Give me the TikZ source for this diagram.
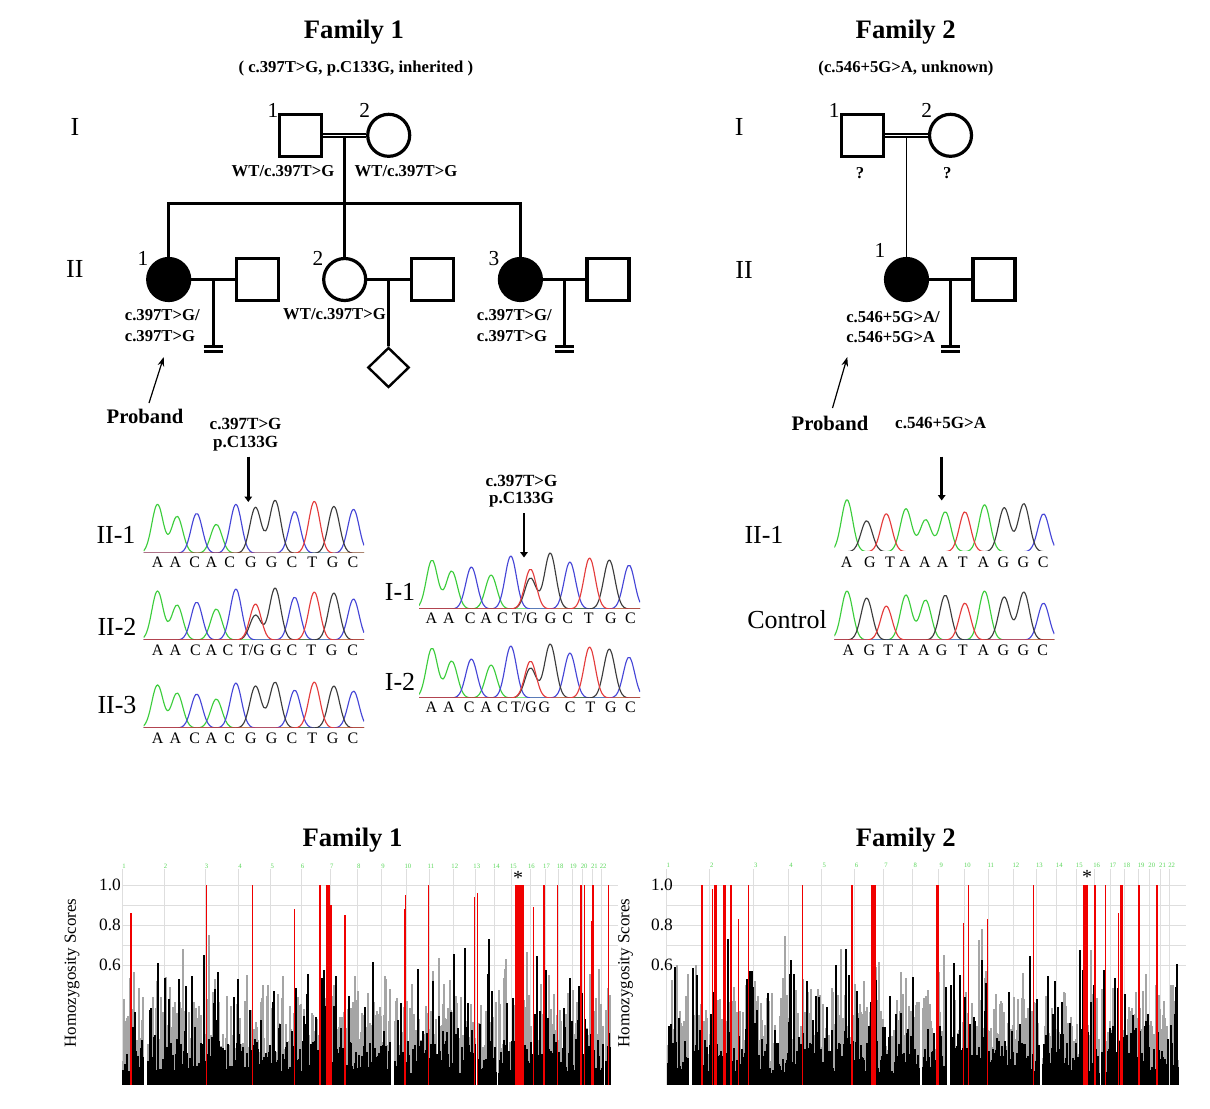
\documentclass[tikz,border=0pt]{standalone}
\usepackage{fontspec}
\setmainfont{Liberation Serif}
\usetikzlibrary{shapes.geometric,arrows.meta,calc}
\definecolor{ch1}{RGB}{60,205,60}
\definecolor{ch2}{RGB}{70,70,215}
\definecolor{ch3}{RGB}{60,60,60}
\definecolor{ch4}{RGB}{228,60,60}
\definecolor{hgray}{RGB}{165,165,165}
\definecolor{hred}{RGB}{240,0,0}
\definecolor{gridc}{RGB}{222,222,222}
\definecolor{chrg}{RGB}{90,215,90}
\tikzset{
  ttl/.style={font=\bfseries\fontsize{20}{24}\selectfont, inner sep=0},
  subttl/.style={font=\bfseries\fontsize{12.5}{15}\selectfont, inner sep=0},
  gen/.style={font=\fontsize{19.5}{23}\selectfont, inner sep=0},
  num/.style={font=\fontsize{16}{19}\selectfont, inner sep=0},
  geno/.style={font=\bfseries\fontsize{12.5}{15}\selectfont, inner sep=0},
  prob/.style={font=\bfseries\fontsize{15.5}{18}\selectfont, inner sep=0},
  mut/.style={font=\bfseries\fontsize{12.8}{15}\selectfont, inner sep=0},
  samp/.style={font=\fontsize{19.5}{23}\selectfont, inner sep=0},
  basel/.style={font=\fontsize{12}{14}\selectfont, inner sep=0, text height=1.5ex, text depth=0.25ex},
  ticklab/.style={font=\fontsize{13}{15}\selectfont, inner sep=0},
  ylab/.style={font=\fontsize{12.7}{15}\selectfont, inner sep=0, rotate=90},
  chrn/.style={font=\fontsize{5}{6}\selectfont, inner sep=0, text=chrg},
  ast/.style={font=\fontsize{15}{18}\selectfont, inner sep=0},
  male/.style={draw, rectangle, line width=2.4pt, minimum width=31.5pt, minimum height=31.5pt, inner sep=0},
  female/.style={draw, circle, line width=2.4pt, minimum size=31.5pt, inner sep=0},
  aff/.style={fill=black},
  unk/.style={draw, diamond, aspect=1, line width=1.8pt, minimum width=31pt, minimum height=30pt, inner sep=0},
  ped/.style={line width=2.2pt},
  cons/.style={line width=1.1pt, double, double distance=1.2pt},
  thinl/.style={line width=1.1pt},
  bar/.style={line width=1.9pt},
  parr/.style={line width=0.9pt, -{Stealth[length=7pt,width=5pt]}},
  marr/.style={line width=2.2pt, -{Triangle[length=4pt,width=5.5pt]}},
  chtrace/.style={line width=0.85pt, line join=round},
  gridl/.style={draw=gridc, line width=0.6pt},
}
% chromatogram: #1 x of first peak, #2 baseline, #3 spacing, #4 xmin, #5 xmax, #6 pos/chan/height
\newcommand\chromo[6]{%
  \begin{scope}
  \clip (#4,#2-70) rectangle (#5,#2-0.8);
  \foreach \chn in {1,2,3,4}{%
    \gdef\cexpr{0}%
    \foreach \pp/\cc/\hh in {#6}{%
      \ifnum\cc=\chn\relax
        \pgfmathsetmacro\px{#1+\pp*#3}%
        \xdef\cexpr{\unexpanded\expandafter{\cexpr}+\hh*exp(0-((\noexpand\x-\px)/8)^2)}%
      \fi
    }%
    \edef\chcol{ch\chn}%
    \draw[chtrace,color=\chcol] plot[domain=#4:#5,samples=111,smooth] (\x,{#2-(\cexpr)});%
  }%
  \end{scope}
}
\newcommand\seqbases[3]{%
  \foreach \bx/\bl [count=\k] in {#3}{\node[basel] (#1\k) at (\bx,#2) {\bl};}%
}
% homozygosity bars: #1 x0, #2 width, #3 seed, #4 gap expression, #5 red list
\newcommand\homplot[5]{%
  \pgfmathtruncatemacro\nlast{#2-1}%
  \pgfmathsetseed{#3}%
  \foreach \i in {0,...,\nlast}{%
    \pgfmathsetmacro\ff{\i/#2}%
    \pgfmathsetmacro\gp{#4}%
    \ifdim\gp pt<0.5pt\relax
      \pgfmathsetmacro\ra{rnd}%
      \pgfmathsetmacro\rd{rnd}%
      \pgfmathsetmacro\hg{min(0.8,0.12+0.33*\ra^1.5+0.35*\rd^8)}%
      \fill[hgray] (#1+\i,1085) rectangle ++(1.3,-200*\hg);%
    \fi
  }%
  \pgfmathsetseed{#3+101}%
  \foreach \i in {0,...,\nlast}{%
    \pgfmathsetmacro\ff{\i/#2}%
    \pgfmathsetmacro\gp{#4}%
    \ifdim\gp pt<0.5pt\relax
      \pgfmathsetmacro\rb{rnd}%
      \pgfmathsetmacro\rc{rnd}%
      \pgfmathsetmacro\hb{min(0.8,0.06+0.16*\rb*\rb+0.55*\rc^7)}%
      \fill[black] (#1+\i,1085) rectangle ++(1.2,-200*\hb);%
    \fi
  }%
  \foreach \rf/\rw/\rh in {#5}{%
    \fill[hred] (#1+\rf*#2,1085) rectangle ++(\rw,-200*\rh);%
  }%
}
\begin{document}
\begin{tikzpicture}[x=0.75pt,y=-0.75pt]
\fill[white] (0,0) rectangle (1210,1108);
\useasboundingbox (0,0) rectangle (1210,1108);

% ===== Titles =====
\node[ttl] (t1) at (353.9,31.7) {Family 1};
\node[subttl] (st1) at (355.8,68.3) {( c.397T>G, p.C133G, inherited )};
\node[ttl] (t2) at (905.7,31.7) {Family 2};
\node[subttl] (st2) at (906,68.3) {(c.546+5G>A, unknown)};

% ===== Family 1 pedigree =====
\node[gen] (f1g1) at (74.9,126.7) {I};
\node[gen] (f1g2) at (74.9,269.3) {II};
\node[male] (f1I1) at (300.7,135.3) {};
\node[female] (f1I2) at (388.7,135.3) {};
\node[num] (f1n1) at (273,110) {1};
\node[num] (f1n2) at (364.6,110) {2};
\draw[cons] (f1I1.east) -- (f1I2.west);
\coordinate (f1m) at (344.7,137.6);
\coordinate (f1s) at (344.7,203.3);
\draw[ped] (f1m) -- (f1s);
\node[geno] (f1w1) at (283,170.7) {WT/c.397T>G};
\node[geno] (f1w2) at (406,170.7) {WT/c.397T>G};

\node[female,aff] (f1II1) at (168.7,279.5) {};
\node[male] (f1S1) at (257.6,279.5) {};
\node[female] (f1II2) at (344.7,279.5) {};
\node[male] (f1S2) at (432.3,279.5) {};
\node[female,aff] (f1II3) at (520.4,279.5) {};
\node[male] (f1S3) at (608,279.5) {};
\node[unk] (f1c) at (388.5,367.5) {};
\node[num] (f1n3) at (143,258.3) {1};
\node[num] (f1n4) at (318,258.3) {2};
\node[num] (f1n5) at (494,258.3) {3};

\draw[ped] (f1II1.north) |- (f1s) -| (f1II3.north);
\draw[ped] (f1s) -- (f1II2.north);
\draw[ped] (f1II1.east) -- (f1S1.west);
\draw[ped] (f1II2.east) -- (f1S2.west);
\draw[ped] (f1II3.east) -- (f1S3.west);
\coordinate (f1d1) at ($(f1II1.east)!0.5!(f1S1.west)$);
\coordinate (f1d2) at ($(f1II2.east)!0.5!(f1S2.west)$);
\coordinate (f1d3) at ($(f1II3.east)!0.5!(f1S3.west)$);
\coordinate (f1b1) at ($(f1d1)+(0,67)$);
\coordinate (f1b3) at ($(f1d3)+(0,67)$);
\draw[ped] (f1d1) -- (f1b1);
\draw[ped] (f1d3) -- (f1b3);
\draw[ped] (f1d2) -- (f1c.north);
\draw[bar] ($(f1b1)+(-9.5,0)$) -- ($(f1b1)+(9.5,0)$);
\draw[bar] ($(f1b1)+(-9.5,5)$) -- ($(f1b1)+(9.5,5)$);
\draw[bar] ($(f1b3)+(-9.5,0)$) -- ($(f1b3)+(9.5,0)$);
\draw[bar] ($(f1b3)+(-9.5,5)$) -- ($(f1b3)+(9.5,5)$);

\node[geno,anchor=west] (f1l1) at (124.6,315) {c.397T>G/};
\node[geno,anchor=west] (f1l2) at (124.6,336) {c.397T>G};
\node[geno] (f1l3) at (334.5,314) {WT/c.397T>G};
\node[geno,anchor=west] (f1l4) at (476.7,315) {c.397T>G/};
\node[geno,anchor=west] (f1l5) at (476.7,336) {c.397T>G};

\node[prob] (f1p) at (145,416.7) {Proband};
\coordinate (f1pa) at (149,403);
\coordinate (f1pb) at (163.7,357);
\draw[parr] (f1pa) -- (f1pb);

% ===== Family 2 pedigree =====
\node[gen] (f2g1) at (739.3,126.7) {I};
\node[gen] (f2g2) at (744,270) {II};
\node[male] (f2I1) at (862.5,135.3) {};
\node[female] (f2I2) at (950.5,135.3) {};
\node[num] (f2n1) at (834.3,110) {1};
\node[num] (f2n2) at (926.7,110) {2};
\draw[cons] (f2I1.east) -- (f2I2.west);
\coordinate (f2m) at (906.5,137.8);
\node[geno] (f2q1) at (860,173.3) {?};
\node[geno] (f2q2) at (947.3,173.3) {?};
\node[female,aff] (f2II1) at (906.5,279.5) {};
\node[male] (f2S1) at (994,279.5) {};
\node[num] (f2n3) at (880,250) {1};
\draw[thinl] (f2m) -- (f2II1.north);
\draw[ped] (f2II1.east) -- (f2S1.west);
\coordinate (f2d1) at ($(f2II1.east)!0.5!(f2S1.west)$);
\coordinate (f2b1) at ($(f2d1)+(0,67)$);
\draw[ped] (f2d1) -- (f2b1);
\draw[bar] ($(f2b1)+(-9.5,0)$) -- ($(f2b1)+(9.5,0)$);
\draw[bar] ($(f2b1)+(-9.5,5)$) -- ($(f2b1)+(9.5,5)$);
\node[geno,anchor=west] (f2l1) at (846,316.7) {c.546+5G>A/};
\node[geno,anchor=west] (f2l2) at (846,336.7) {c.546+5G>A};
\node[prob] (f2p) at (830,423.3) {Proband};
\coordinate (f2pa) at (832.5,408);
\coordinate (f2pb) at (847.3,357);
\draw[parr] (f2pa) -- (f2pb);

% ===== Chromatograms Family 1 =====
\node[mut] (m1a) at (245.6,424) {c.397T>G};
\node[mut] (m1b) at (245.6,443.3) {p.C133G};
\coordinate (a1s) at (248.3,456.7);
\coordinate (a1e) at (248.3,502);
\draw[marr] (a1s) -- (a1e);
\node[mut] (m2a) at (521.5,480.7) {c.397T>G};
\node[mut] (m2b) at (521.5,500) {p.C133G};
\coordinate (a2s) at (524,513);
\coordinate (a2e) at (524,557.5);
\draw[marr] (a2s) -- (a2e);

\node[samp] (sII1) at (116,535) {II-1};
\node[samp] (sII2) at (117,626.7) {II-2};
\node[samp] (sII3) at (117,705) {II-3};
\node[samp] (sI1) at (400,591.7) {I-1};
\node[samp] (sI2) at (400,681.7) {I-2};

\chromo{157.5}{553.3}{19.6}{143.6}{364}{0/1/49,1/1/37,2/2/40,3/1/29,4/2/49,5/3/46,6/3/53,7/2/42,8/4/52,9/3/47,10/2/44}
\seqbases{bA}{563.3}{157.7/A,175.4/A,194.7/C,211.3/A,229.8/C,250.9/G,271.6/G,292/C,312.3/T,332.7/G,353/C}
\chromo{157.5}{640}{19.6}{143.6}{364}{0/1/49,1/1/35,2/2/38,3/1/31,4/2/51,5/4/36,5/3/25,6/3/52,7/2/43,8/4/48,9/3/47,10/2/41}
\seqbases{bB}{651.7}{157.7/A,175.4/A,195.4/C,211.3/A,228/C,252/T\slash G,276/G,292/C,311.3/T,331.6/G,352.7/C}
\chromo{157.5}{728}{19.6}{143.6}{364}{0/1/43,1/1/35,2/2/34,3/1/29,4/2/45,5/3/42,6/3/46,7/2/38,8/4/46,9/3/42,10/2/37}
\seqbases{bC}{740}{157.7/A,175.4/A,194.7/C,211.3/A,229.8/C,250.9/G,271.6/G,292/C,312.3/T,332.7/G,353/C}
\chromo{432}{609}{19.7}{419}{640}{0/1/49,1/1/38,2/2/42,3/1/34,4/2/53,5/4/40,5/3/31,6/3/56,7/2/47,8/4/51,9/3/49,10/2/44}
\seqbases{bD}{620}{431.5/A,448.9/A,470.3/C,486.2/A,502.5/C,525/T\slash G,550.6/G,567.6/C,588.7/T,610.9/G,630.5/C}
\chromo{432}{698}{19.7}{419}{640}{0/1/50,1/1/37,2/2/39,3/1/33,4/2/52,5/4/37,5/3/30,6/3/54,7/2/45,8/4/51,9/3/49,10/2/41}
\seqbases{bE}{708.3}{431.5/A,448.9/A,469.2/C,486.2/A,502.5/C,524/T\slash G,544.3/G,570.2/C,590.5/T,610.9/G,630.5/C}

% ===== Chromatograms Family 2 =====
\node[mut] (m3a) at (940.7,423.3) {c.546+5G>A};
\coordinate (a3s) at (941.7,456.7);
\coordinate (a3e) at (941.7,500.5);
\draw[marr] (a3s) -- (a3e);
\node[samp] (s2II1) at (764,535) {II-1};
\node[samp] (s2C) at (787,620) {Control};
\chromo{847}{551.7}{19.65}{834.3}{1054.3}{0/1/52,1/3/31,2/4/38,3/1/43,4/1/32,5/1/40,6/4/40,7/1/47,8/3/44,9/3/48,10/2/38}
\seqbases{bF}{563.3}{846.7/A,870/G,890/T,905/A,925/A,942.7/A,962.7/T,983.3/A,1003.3/G,1023.3/G,1043.3/C}
\chromo{847}{640}{19.65}{834.3}{1054.3}{0/1/49,1/3/42,2/4/34,3/1/45,4/1/40,5/3/45,6/4/37,7/1/49,8/3/43,9/3/48,10/2/37}
\seqbases{bG}{651.7}{848.3/A,869.3/G,888.3/T,904/A,924/A,941.7/G,962.7/T,983.3/A,1003.3/G,1023.3/G,1042.7/C}

% ===== Homozygosity plot Family 1 =====
\node[ttl] (h1t) at (352.5,840) {Family 1};
\foreach \v in {1.0,0.9,0.8,0.7,0.6} \draw[gridl] (122,{1085-200*\v}) -- (618,{1085-200*\v});
\foreach \cf in {0.004,0.089,0.173,0.242,0.308,0.370,0.430,0.485,0.535,0.586,0.633,0.682,0.727,0.767,0.802,0.839,0.870,0.898,0.925,0.947,0.968,0.986}
  \draw[gridl] ({122+\cf*488-1.5},869) -- ({122+\cf*488-1.5},1085);
\homplot{122.4}{488}{23}{(\ff>0.042)*(\ff<0.051)+(\ff>0.549)*(\ff<0.556)+(\ff>0.722)*(\ff<0.726)+(\ff>0.765)*(\ff<0.769)+(\ff>0.984)*(\ff<0.989)}{0.016/1.5/0.86,0.171/1.5/1.0,0.265/1/1.0,0.352/1/0.88,0.402/2/1.0,0.417/4.5/1.0,0.426/1.5/0.90,0.455/1.5/0.85,0.578/1/0.88,0.580/1/0.95,0.627/1/1.0,0.721/1/0.94,0.727/1/0.96,0.8045/8.5/1.0,0.841/1/0.89,0.861/2/1.0,0.890/1/1.0,0.938/1.5/1.0,0.946/1/1.0,0.960/1/0.82,0.963/1.5/1.0,0.996/1/1.0}
\foreach \cf [count=\k] in {0.004,0.089,0.173,0.242,0.308,0.370,0.430,0.485,0.535,0.586,0.633,0.682,0.727,0.767,0.802,0.839,0.870,0.898,0.925,0.947,0.968,0.986}
  \node[chrn] (ca\k) at ({122+\cf*488},866) {\k};
\node[ticklab] (h1a) at (110,885) {1.0};
\node[ticklab] (h1b) at (110,925) {0.8};
\node[ticklab] (h1c) at (110,965) {0.6};
\node[ylab] (h1y) at (72.2,973) {Homozygosity Scores};
\node[ast] (h1s) at (518,878) {*};

% ===== Homozygosity plot Family 2 =====
\node[ttl] (h2t) at (905.8,840) {Family 2};
\foreach \v in {1.0,0.9,0.8,0.7,0.6} \draw[gridl] (667.4,{1085-200*\v}) -- (1186,{1085-200*\v});
\foreach \cf in {0.0,0.085,0.171,0.240,0.305,0.368,0.426,0.483,0.534,0.585,0.631,0.680,0.726,0.765,0.804,0.838,0.870,0.897,0.925,0.946,0.967,0.985}
  \draw[gridl] ({667.4+\cf*511-1.5},869) -- ({667.4+\cf*511-1.5},1085);
\homplot{667.4}{511}{29}{(\ff>0.040)*(\ff<0.047)+(\ff>0.493)*(\ff<0.498)+(\ff>0.545)*(\ff<0.553)+(\ff>0.727)*(\ff<0.732)+(\ff>0.766)*(\ff<0.769)+(\ff>0.845)*(\ff<0.849)+(\ff>0.980)*(\ff<0.984)}{0.066/1.5/1.0,0.087/1.5/0.98,0.091/3/1.0,0.109/3/1.0,0.123/2/1.0,0.138/1/0.83,0.158/1/1.0,0.263/1/1.0,0.360/2/1.0,0.398/5.5/1.0,0.526/2.5/1.0,0.579/1/0.81,0.589/1/1.0,0.626/1/0.83,0.715/1.5/1.0,0.814/5/1.0,0.834/2/1.0,0.856/1/1.0,0.882/1/0.86,0.885/3/1.0,0.921/1.5/1.0,0.957/1.5/1.0}
\foreach \cf [count=\k] in {0.0,0.085,0.171,0.240,0.305,0.368,0.426,0.483,0.534,0.585,0.631,0.680,0.726,0.765,0.804,0.838,0.870,0.897,0.925,0.946,0.967,0.985}
  \node[chrn] (cb\k) at ({667.4+\cf*511+1},865) {\k};
\node[ticklab] (h2a) at (662,885) {1.0};
\node[ticklab] (h2b) at (662,925) {0.8};
\node[ticklab] (h2c) at (662,965) {0.6};
\node[ylab] (h2y) at (625.5,973) {Homozygosity Scores};
\node[ast] (h2s) at (1087,877) {*};
\end{tikzpicture}
\end{document}
